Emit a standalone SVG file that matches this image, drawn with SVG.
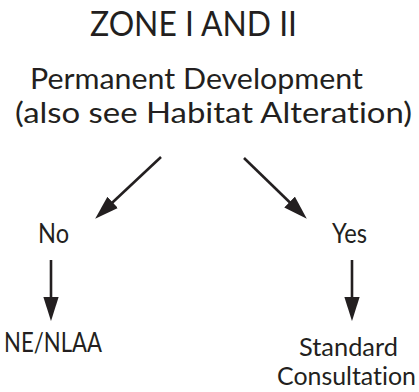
<svg xmlns="http://www.w3.org/2000/svg" width="419" height="392" viewBox="0 0 419 392">
<style>
text{font-family:Lato,"Open Sans","Liberation Sans",sans-serif;fill:#231f20;font-variant-ligatures:none;font-feature-settings:"liga" 0,"dlig" 0}
.t{font-size:35px}
.s{font-size:28px}
.n{font-size:26px}
.m{font-size:25px}
.c{stroke:#231f20;stroke-width:2.6;fill:none}
</style>
<defs>
<marker id="ah" markerUnits="userSpaceOnUse" markerWidth="24" markerHeight="16" refX="10" refY="7" orient="auto" viewBox="0 0 22 14">
<path d="M0,0 L22,7 L0,14 z" fill="#231f20"/>
</marker>
</defs>
<rect width="419" height="392" fill="#fff"/>
<g id="title"><text class="t" x="90" y="36" textLength="207" lengthAdjust="spacingAndGlyphs">ZONE I AND II</text></g>
<g id="question">
<text class="s" x="30" y="89" textLength="333" lengthAdjust="spacingAndGlyphs">Permanent Development</text>
<text class="s" x="15" y="123" textLength="397" lengthAdjust="spacingAndGlyphs">(also see Habitat Alteration)</text>
</g>
<g id="no"><text class="n" x="38" y="243" textLength="31" lengthAdjust="spacingAndGlyphs">No</text></g>
<g id="yes"><text class="n" x="332" y="243" textLength="35" lengthAdjust="spacingAndGlyphs">Yes</text></g>
<g id="nenlaa"><text class="n" x="4" y="352" textLength="98" lengthAdjust="spacingAndGlyphs">NE/NLAA</text></g>
<g id="standard">
<text class="m" x="299" y="356" textLength="99" lengthAdjust="spacingAndGlyphs">Standard</text>
<text class="m" x="277" y="385" textLength="139" lengthAdjust="spacingAndGlyphs">Consultation</text>
</g>
<g id="connectors">
<line class="c" x1="161" y1="157" x2="104.7" y2="209.8" marker-end="url(#ah)"/>
<line class="c" x1="244" y1="158" x2="297.4" y2="209.7" marker-end="url(#ah)"/>
<line class="c" x1="51" y1="260" x2="51" y2="308" marker-end="url(#ah)"/>
<line class="c" x1="352" y1="260" x2="352" y2="308" marker-end="url(#ah)"/>
</g>
</svg>
